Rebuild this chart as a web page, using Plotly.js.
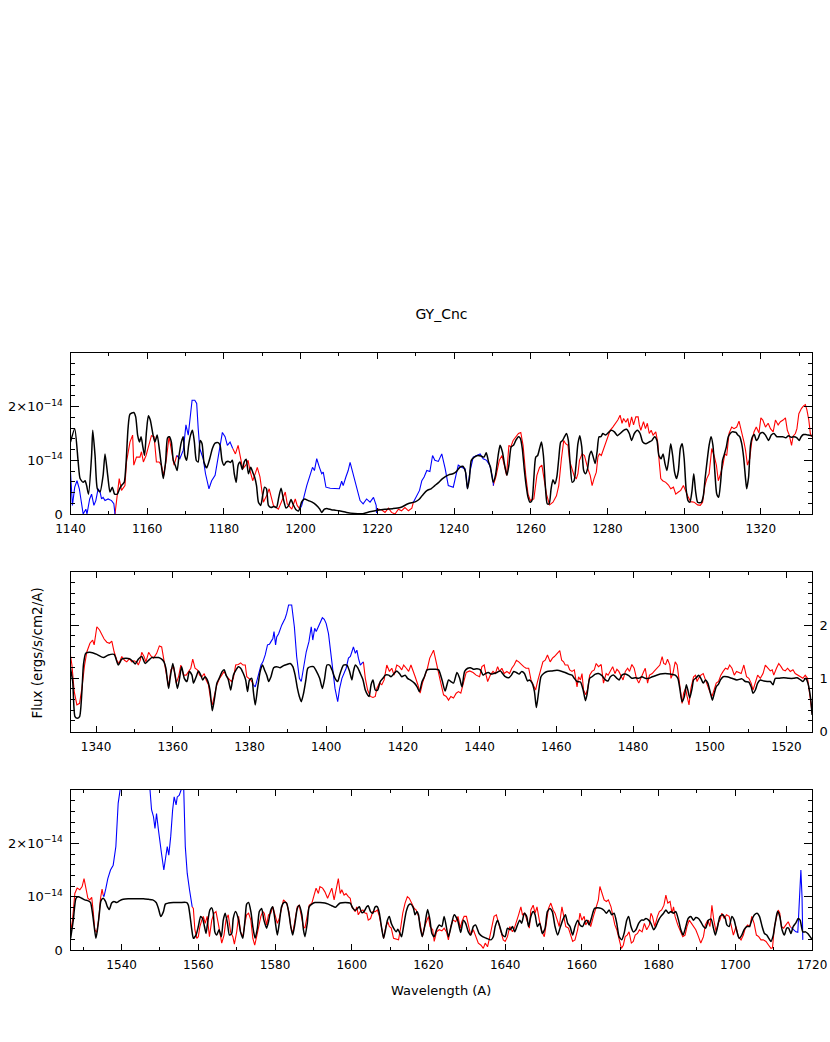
<!DOCTYPE html>
<html>
<head>
<meta charset="utf-8">
<script src="https://cdn.plot.ly/plotly-3.0.1.min.js"></script>
<style>html,body{margin:0;padding:0;background:#fff;}#chart{width:830px;height:1042px;}</style>
</head>
<body>
<div id="chart"></div>
<script>
// Flux values are in units of 1e-14 ergs/s/cm2/A; wavelengths in Angstrom.
// ---------- Panel 1 (1140 - 1333 A) ----------
const blackWave1 = [
1140.0,1141.1,1142.0,1142.5,1143.3,1143.8,1144.2,1144.7,1145.5,1145.8,
1146.4,1147.0,1147.7,1148.5,1149.0,1149.7,1150.3,1150.9,1151.5,1152.2,
1152.8,1153.4,1154.0,1154.5,1155.0,1155.5,1156.5,1157.0,1157.5,1158.0,
1158.4,1158.8,1159.3,1159.8,1160.3,1160.8,1161.5,1162.0,1162.6,1163.2,
1163.8,1164.2,1164.8,1165.3,1165.8,1166.3,1166.8,1167.3,1167.8,1168.3,
1168.9,1169.4,1169.8,1170.3,1170.8,1171.3,1171.8,1172.3,1172.8,1173.3,
1173.8,1174.3,1174.8,1175.5,1176.3,1177.0,1177.7,1178.5,1179.0,1179.5,
1180.0,1180.6,1181.2,1181.7,1182.2,1182.7,1183.2,1183.7,1184.2,1184.8,
1185.3,1185.8,1186.4,1187.0,1187.5,1188.0,1188.5,1189.0,1189.6,1190.1,
1190.6,1191.1,1191.6,1192.3,1193.0,1193.7,1194.3,1194.9,1195.5,1196.2,
1196.9,1197.5,1198.1,1198.8,1199.5,1200.3,1201.0,1202.0,1203.0,1204.0,
1205.0,1205.5,1206.2,1207.0,1208.0,1209.0,1210.0,1212.0,1214.0,1216.0,
1218.0,1220.0,1222.0,1224.0,1226.0,1228.0,1230.0,1231.0,1232.0,1233.0,
1234.0,1235.0,1236.0,1237.0,1238.6,1239.7,1240.6,1241.5,1242.3,1243.0,
1243.5,1244.0,1244.5,1245.3,1246.2,1247.0,1247.8,1248.4,1249.0,1249.5,
1250.2,1250.8,1251.5,1252.0,1252.6,1253.2,1253.8,1254.3,1254.9,1255.5,
1256.1,1256.8,1257.3,1257.8,1258.3,1258.8,1259.3,1259.8,1260.3,1260.8,
1261.3,1261.8,1262.3,1262.8,1263.3,1263.8,1264.3,1264.8,1265.3,1265.8,
1266.3,1266.8,1267.3,1267.8,1268.3,1268.8,1269.3,1269.8,1270.3,1270.8,
1271.3,1271.8,1272.3,1272.8,1273.3,1273.8,1274.3,1274.8,1275.3,1275.8,
1276.3,1276.8,1277.3,1277.8,1278.3,1278.8,1279.5,1280.3,1281.0,1281.8,
1282.6,1283.3,1284.2,1285.0,1285.7,1286.3,1287.0,1287.8,1288.5,1289.2,
1290.0,1290.8,1291.6,1292.3,1292.9,1293.4,1294.0,1294.5,1295.0,1295.5,
1296.0,1296.5,1297.0,1297.5,1298.0,1298.5,1299.0,1299.5,1300.0,1300.5,
1301.0,1301.5,1302.0,1302.5,1303.0,1303.5,1304.0,1304.5,1305.0,1305.5,
1306.0,1306.5,1307.0,1307.5,1308.0,1308.5,1309.0,1309.5,1310.0,1310.5,
1311.0,1311.5,1312.0,1312.5,1313.0,1313.5,1314.0,1314.5,1315.0,1315.5,
1316.0,1316.3,1316.8,1317.3,1317.8,1318.3,1318.8,1319.3,1319.8,1320.5,
1321.2,1322.0,1322.7,1323.4,1324.2,1325.0,1325.7,1326.5,1327.2,1327.9,
1328.6,1329.4,1330.0,1330.5,1331.1,1331.7,1332.3,1333.3];
const blackFlux1 = [
1.34,1.59,0.97,0.66,0.59,0.62,0.53,0.37,1.09,1.56,
1.09,0.47,0.41,0.72,1.12,0.72,0.41,0.50,0.37,0.37,
0.47,0.54,0.59,0.97,1.59,1.86,1.89,1.81,1.47,1.34,
1.44,1.28,1.09,1.53,1.83,1.75,1.48,1.34,1.47,1.19,
0.84,0.66,0.97,1.42,1.44,1.34,1.00,0.91,0.81,1.09,
1.34,1.44,1.09,1.00,1.28,1.47,1.56,1.34,1.00,0.97,
1.37,1.31,0.97,0.86,1.03,1.22,1.32,1.33,1.28,1.00,
0.91,0.97,0.98,0.96,1.00,0.75,0.59,0.91,0.97,0.83,
0.97,1.02,0.75,0.87,0.78,0.69,0.53,0.22,0.16,0.34,
0.50,0.47,0.16,0.12,0.14,0.12,0.31,0.48,0.28,0.11,
0.16,0.27,0.17,0.08,0.06,0.23,0.28,0.25,0.22,0.17,
0.09,0.03,0.09,0.10,0.08,0.07,0.06,0.03,0.01,0.005,
0.04,0.07,0.09,0.10,0.12,0.19,0.23,0.28,0.37,0.44,
0.47,0.53,0.59,0.66,0.73,0.75,0.79,0.87,0.89,0.78,
0.47,0.66,1.00,1.06,1.09,1.08,1.06,1.14,0.97,0.87,
0.59,0.72,1.09,1.28,1.16,0.91,0.72,0.91,1.25,1.28,
1.37,1.44,1.41,1.22,0.84,0.53,0.31,0.22,0.25,0.66,
1.06,1.09,1.22,1.34,1.09,0.53,0.19,0.19,0.47,0.64,
0.56,0.69,1.03,1.34,1.37,1.44,1.50,1.37,0.91,0.59,
0.62,0.91,1.31,1.46,1.25,0.81,0.75,0.84,1.09,1.17,
1.06,0.94,1.16,1.44,1.44,1.50,1.47,1.52,1.56,1.53,
1.46,1.50,1.56,1.58,1.50,1.37,1.50,1.56,1.50,1.34,
1.31,1.34,1.37,1.44,1.37,1.09,1.03,1.12,0.94,0.81,
1.03,1.31,1.09,0.78,0.66,0.81,1.22,1.31,1.03,0.47,
0.25,0.22,0.41,0.75,0.41,0.22,0.21,0.22,0.34,0.69,
1.00,1.28,1.44,1.28,0.78,0.37,0.31,0.59,1.00,1.12,
1.25,1.44,1.50,1.53,1.53,1.52,1.47,1.44,1.31,1.06,
0.66,0.47,0.69,1.28,1.44,1.48,1.37,1.41,1.50,1.52,
1.47,1.37,1.47,1.50,1.44,1.44,1.44,1.42,1.46,1.43,
1.44,1.42,1.37,1.44,1.48,1.48,1.47,1.46];

const redWave1 = [
1151.6,1152.7,1153.3,1154.2,1154.6,1155.5,1156.2,1156.5,1157.2,1158.1,
1158.5,1159.0,1159.7,1160.5,1161.1,1161.8,1162.4,1163.1,1163.7,1164.3,
1165.0,1165.7,1166.3,1167.0,1167.7,null,
1182.3,1183.0,1183.7,1184.2,1184.9,1185.7,1186.3,1186.8,1187.5,1188.3,
1188.7,1189.4,1190.3,1191.3,1191.8,1192.9,1194.2,1195.3,1196.0,1196.5,
1197.7,1198.6,1199.1,1199.8,null,
1219.8,1220.3,1221.1,1222.0,1222.9,1223.7,1224.6,1225.5,1226.3,1227.2,
1228.1,1229.0,1229.4,null,
1250.2,1250.9,1251.8,1252.5,1253.1,1253.7,1254.3,1254.8,1255.4,1256.1,
1256.8,1257.4,1258.0,1258.7,1259.3,1259.9,1260.8,1261.6,1262.3,1262.9,
1263.4,1264.1,1264.9,1265.8,1266.7,1267.3,1268.0,1268.6,1269.1,1269.7,
1270.1,1270.8,1271.4,1271.9,1272.3,1272.7,1273.4,1274.0,1274.5,1274.9,
1275.5,1276.0,1276.5,1277.1,1277.5,1277.9,1278.4,1279.0,1279.7,1280.2,
1280.7,1281.4,1282.1,1282.7,1283.3,1283.8,1284.2,1284.8,1285.3,1285.7,
1286.3,1286.8,1287.4,1288.0,1288.3,1288.7,1289.4,1289.9,1290.4,1290.9,
1291.4,1291.9,1292.6,1293.1,1293.5,1293.9,1294.4,1295.2,1295.9,1296.5,
1297.2,1297.8,1298.5,1299.1,1299.8,1300.4,1301.1,1301.7,1302.6,1303.5,
1304.2,1304.8,1305.4,1305.9,1306.5,1307.2,1307.8,1308.4,1308.9,1309.5,
1310.1,1310.6,1311.1,1311.7,1312.4,1313.0,1313.7,1314.3,1314.9,1315.6,
1316.0,1316.5,1317.1,1317.6,1318.2,1318.8,1319.5,1320.0,1320.5,1321.2,
1321.9,1322.5,1323.2,1323.8,1324.5,1325.1,1325.8,1326.4,1326.9,1327.4,
1328.0,1328.4,1329.0,1329.4,1329.9,1330.6,1331.2,1331.6,1332.0,1332.5,
1332.9,1333.3];
const redFlux1 = [
0.00,0.66,0.44,0.53,0.97,1.34,1.47,0.91,1.06,1.06,
1.16,0.97,1.09,1.31,1.46,1.44,0.97,0.97,0.91,0.72,
1.03,1.44,1.22,0.91,1.09,null,
1.22,1.12,1.28,1.09,0.84,0.91,1.00,0.81,0.62,0.78,
0.87,0.69,0.22,0.37,0.47,0.16,0.09,0.28,0.41,0.19,
0.09,0.28,0.16,0.09,null,
0.02,0.09,0.08,0.03,0.11,0.03,0.00,0.09,0.06,0.12,
0.06,0.11,0.22,null,
0.53,0.69,1.00,1.09,0.91,0.72,1.28,1.25,1.37,1.44,
1.50,1.52,1.28,0.72,0.37,0.25,0.28,0.72,0.87,0.91,
0.66,0.37,0.17,0.22,0.34,0.53,1.03,1.37,1.31,1.28,
1.00,0.84,0.69,0.66,0.75,1.00,1.12,1.09,0.94,0.84,
0.72,0.53,0.66,0.78,1.06,1.12,1.09,1.22,1.37,1.44,
1.56,1.62,1.69,1.75,1.84,1.69,1.78,1.71,1.78,1.62,
1.81,1.66,1.81,1.81,1.66,1.56,1.72,1.59,1.69,1.50,
1.56,1.47,1.53,1.34,0.97,0.66,0.62,0.59,0.54,0.47,
0.50,0.37,0.41,0.44,0.53,0.41,0.31,0.23,0.22,0.17,
0.16,0.22,0.53,0.66,0.75,1.22,1.09,0.91,0.62,0.75,
0.91,1.12,1.09,1.50,1.62,1.59,1.62,1.73,1.56,1.34,
1.19,0.91,1.03,1.34,1.53,1.62,1.51,1.79,1.75,1.62,
1.69,1.59,1.53,1.75,1.66,1.72,1.75,1.79,1.56,1.47,
1.28,1.45,1.50,1.59,1.87,1.97,2.02,2.04,1.94,1.75,
1.50,1.44];

const blueWave1 = [
1140.0,1140.5,1141.1,1141.7,1142.3,1142.9,1143.3,1144.0,1144.3,1145.0,
1145.5,1146.1,1146.6,1147.2,1147.7,1148.1,1148.5,1149.0,1149.8,1150.7,
1151.3,1151.6,null,
1167.7,1168.5,1169.4,1170.1,1170.7,1171.3,1171.7,1172.4,1172.9,1173.3,
1173.7,1174.6,1175.2,1176.1,1176.8,1177.7,1178.5,1179.0,1179.6,1180.3,
1180.9,1181.6,1182.3,null,
1199.8,1200.3,1201.6,1202.4,1203.1,1203.6,1204.2,1204.9,1205.5,1205.9,
1206.6,1207.7,1209.0,1210.1,1210.7,1211.1,1211.8,1212.4,1212.9,1213.7,
1214.6,1215.5,1216.3,1217.2,1218.1,1219.0,1219.7,1219.8,null,
1229.4,1230.3,1231.0,1231.6,1232.2,1232.9,1233.7,1234.4,1235.0,1235.9,
1236.8,1237.7,1238.5,1239.8,1240.5,1241.1,1242.0,1242.9,1243.5,1244.2,
1245.0,1245.9,1246.8,1247.6,1248.5,1249.3,1250.0,1250.3];
const blueFlux1 = [
0.78,0.16,0.50,0.62,0.47,0.16,0.00,0.09,0.00,0.28,
0.37,0.16,0.25,0.47,0.41,0.28,0.31,0.25,0.28,0.25,
0.19,0.00,null,
1.09,1.03,1.19,1.66,1.47,1.80,2.12,2.12,2.06,1.59,
1.22,1.03,0.75,0.47,0.62,0.72,1.09,1.25,1.52,1.44,
1.28,1.34,1.22,null,
0.09,0.16,0.53,0.69,0.87,0.81,1.03,0.87,0.75,0.78,
0.50,0.48,0.47,0.47,0.61,0.53,0.69,0.81,0.96,0.75,
0.53,0.25,0.19,0.28,0.22,0.31,0.16,0.02,null,
0.22,0.34,0.44,0.62,0.69,0.81,0.79,1.09,1.00,0.98,
1.12,0.84,0.53,0.50,0.75,0.91,0.87,0.84,0.47,0.81,
1.06,1.09,1.12,1.03,1.00,0.91,0.69,0.53];

// ---------- Panel 2 (1333 - 1527 A) ----------
const blackWave2 = [
1333.3,1333.9,1334.5,1335.1,1335.7,1336.3,1336.7,1337.3,1338.4,1340.2,
1341.9,1343.2,1344.7,1345.8,1346.7,1347.8,1348.9,1349.7,1350.2,1351.0,
1351.9,1352.8,1353.7,1354.5,1355.4,1356.3,1357.1,1357.7,1358.2,1358.9,
1359.3,1360.0,1360.6,1361.2,1361.7,1362.3,1363.0,1363.7,1364.3,1365.0,
1365.4,1366.1,1366.7,1367.3,1367.8,1368.4,1369.0,1369.7,1370.3,1370.9,
1371.5,1372.1,1372.9,1373.4,1373.9,1374.5,1375.1,1375.8,1376.5,1377.1,
1377.7,1378.4,1379.0,1379.5,1380.0,1380.6,1381.0,1381.5,1382.1,1382.8,
1383.4,1383.9,1384.5,1385.0,1385.6,1386.3,1387.1,1388.0,1388.9,1389.7,
1390.6,1391.3,1391.9,1392.5,1393.0,1393.5,1394.1,1394.7,1395.2,1396.0,
1396.7,1397.4,1398.3,1399.0,1399.6,1400.2,1400.9,1401.5,1402.3,1403.0,
1403.5,1404.1,1404.5,1405.4,1406.1,1406.7,1407.1,1407.6,1408.2,1408.9,
1409.6,1410.2,1410.8,1411.2,1411.7,1412.2,1412.8,1413.4,1414.1,1414.8,
1415.4,1416.3,1416.9,1417.7,1418.4,1419.1,1419.7,1420.6,1421.2,1421.9,
1423.0,1423.7,1424.3,1425.0,1425.6,1426.3,1427.3,1428.4,1429.3,1430.2,
1431.0,1431.9,1432.5,1433.2,1434.1,1434.8,1435.4,1436.1,1436.9,1437.6,
1438.4,1439.3,1440.2,1440.9,1441.5,1442.3,1443.0,1443.7,1444.5,1445.4,
1446.1,1446.7,1447.6,1448.3,1448.9,1449.6,1450.3,1451.0,1451.7,1452.5,
1453.0,1453.7,1454.3,1454.8,1455.4,1456.0,1456.7,1457.6,1458.9,1460.2,
1461.5,1462.3,1463.2,1464.1,1464.7,1465.4,1466.3,1467.0,1467.6,1468.0,
1468.7,1469.3,1470.2,1471.0,1471.9,1472.8,1473.5,1474.1,1475.0,1475.8,
1476.4,1477.1,1478.0,1478.9,1479.7,1480.6,1481.5,1482.3,1483.2,1484.1,
1485.0,1485.8,1487.1,1488.4,1489.7,1491.0,1491.7,1492.2,1492.8,1493.4,
1493.9,1494.3,1494.8,1495.4,1495.8,1496.5,1497.1,1497.7,1498.3,1498.9,
1499.5,1500.2,1500.7,1501.2,1501.7,1502.3,1502.8,1503.5,1504.5,1505.8,
1507.1,1508.4,1509.3,1510.2,1510.8,1511.3,1511.9,1512.5,1513.2,1514.1,
1515.0,1515.8,1516.5,1517.1,1518.0,1519.3,1520.6,1521.9,1522.8,1523.7,
1524.3,1525.0,1525.6,1526.3,1526.7];
const blackFlux2 = [
1.20,0.94,0.28,0.25,0.28,0.75,1.25,1.47,1.49,1.45,
1.39,1.44,1.45,1.25,1.36,1.38,1.36,1.31,1.27,1.36,
1.41,1.28,1.34,1.39,1.39,1.39,1.36,1.31,1.19,0.81,
1.00,1.28,1.06,0.81,0.97,1.22,1.00,0.94,1.13,1.06,
0.91,1.03,1.14,1.06,0.97,1.03,0.97,0.78,0.39,0.63,
0.91,1.00,1.13,1.16,1.06,0.97,0.78,1.06,1.16,1.22,
1.19,1.09,0.97,0.75,0.97,1.00,0.76,0.50,0.81,1.13,
1.25,1.16,1.06,0.94,1.03,1.20,1.22,1.20,1.24,1.26,
1.28,1.22,1.06,0.81,0.66,0.56,0.72,0.97,1.19,1.22,
1.22,1.14,1.00,0.81,1.00,1.25,1.25,1.16,1.00,0.94,
1.06,1.19,1.25,1.25,1.13,0.97,1.13,1.25,1.20,1.09,
0.97,0.78,0.69,0.66,0.88,0.97,0.78,0.78,0.94,1.00,
1.06,1.06,1.03,1.09,1.14,1.09,1.03,1.06,1.00,0.97,
0.91,0.84,0.75,0.94,1.03,1.16,1.17,1.17,1.16,0.97,
0.76,0.97,0.94,0.91,1.11,1.00,0.84,1.13,1.19,1.20,
1.17,1.18,1.16,1.06,1.09,1.11,1.08,1.09,1.11,1.14,
1.08,1.03,1.01,1.06,1.13,1.11,1.08,1.13,1.09,0.95,
0.97,0.91,0.75,0.45,0.75,1.03,1.09,1.13,1.14,1.15,
1.13,1.11,1.08,1.06,1.00,0.94,0.93,0.78,0.58,0.69,
1.00,1.03,1.08,1.09,1.05,0.97,0.95,1.03,1.06,1.00,
0.97,1.06,1.08,1.05,1.00,1.01,1.00,1.03,1.00,1.00,
1.03,1.05,1.08,1.09,1.08,1.06,1.00,0.81,0.56,0.66,
0.88,0.78,0.63,0.81,0.97,1.01,1.06,1.00,0.91,0.97,
0.91,0.72,0.59,0.72,0.84,0.89,0.97,1.03,1.03,1.00,
0.97,0.99,0.94,0.93,0.84,0.72,0.78,0.91,0.97,0.95,
0.94,0.94,0.88,1.00,1.00,1.01,1.00,1.00,1.01,0.97,
0.94,1.00,0.91,0.63,0.31];

const redWave2 = [
1333.3,1333.7,1334.3,1335.0,1335.7,1336.3,1337.0,1337.6,1338.4,1339.1,
1339.5,1340.2,1340.9,1341.5,1342.1,1342.8,1343.5,1344.1,1344.7,1345.4,
1346.0,1346.7,1347.4,1348.0,1348.7,1349.3,1349.9,1350.6,1351.0,1351.5,
1351.9,1352.5,1353.0,1353.7,1354.3,1355.0,1355.8,1356.5,1357.1,1357.6,
1358.2,1358.9,1359.5,1360.2,1360.9,1361.5,1362.1,1362.8,1363.5,1364.1,
1364.7,1365.2,1365.8,1366.4,1367.0,1367.6,1368.2,1368.7,1369.3,1369.9,
1370.3,1371.0,1371.5,1372.2,1372.8,1373.4,1374.1,1374.8,1375.3,1375.8,
1376.4,1377.1,1377.7,1378.3,1378.9,1379.3,1379.8,1380.3,1380.9,1381.0,
null,
1409.7,1410.2,1410.8,1411.5,1412.2,1412.8,1413.2,1413.9,1414.5,1415.1,
1415.8,1416.5,1417.1,1417.7,1418.4,1419.1,1419.7,1420.2,1420.9,1421.5,
1422.1,1422.6,1423.2,1423.9,1424.5,1425.1,1425.8,1426.4,1427.0,1428.0,
1429.7,1430.6,1431.3,1431.9,1432.5,1433.2,1433.9,1434.5,1435.1,1435.8,
1436.5,1437.4,1438.3,1439.1,1440.0,1440.6,1441.2,1441.7,1442.1,1442.8,
1443.5,1444.1,1444.7,1445.2,1445.8,1446.4,1447.1,1447.8,1448.4,1449.0,
1449.6,1450.2,1450.8,1451.5,1452.1,1452.8,1453.4,1454.1,1454.6,1455.1,
1455.8,1456.5,1457.1,1457.7,1458.4,1459.0,1459.5,1460.2,1460.9,1461.4,
1461.9,1462.3,1463.0,1463.5,1464.1,1464.7,1465.4,1465.8,1466.3,1466.7,
1467.1,1467.7,1468.2,1468.7,1469.3,1469.9,1470.4,1471.0,1471.7,1472.3,
1473.0,1473.5,1474.1,1474.7,1475.3,1475.8,1476.3,1476.9,1477.4,1478.0,
1478.6,1479.1,1479.7,1480.3,1480.9,1481.5,1482.1,1482.8,1483.2,1483.8,
1484.3,1485.0,1485.6,1486.3,1487.0,1487.6,1488.0,1488.5,1489.0,1489.6,
1489.9,1490.4,1491.0,1491.5,1491.9,1492.3,1492.8,1493.2,1493.7,1494.1,
1494.6,1495.1,1495.8,1496.3,1496.7,1497.1,1497.7,1498.3,1498.7,1499.3,
1500.0,1500.6,1501.2,1501.7,1502.3,1502.9,1503.5,1504.1,1504.7,1505.2,
1505.8,1506.4,1507.0,1507.6,1508.2,1508.9,1509.6,1510.2,1510.8,1511.3,
1511.9,1512.5,1513.2,1513.9,1514.5,1515.1,1515.8,1516.3,1516.7,1517.4,
1518.0,1518.6,1519.1,1519.7,1520.3,1521.0,1521.7,1522.3,1522.9,1523.6,
1524.3,1524.9,1525.5,1526.2,1526.7];
const redFlux2 = [
1.44,1.25,0.75,0.50,0.53,0.81,1.25,1.50,1.66,1.72,
1.63,1.97,1.91,1.81,1.74,1.68,1.66,1.70,1.50,1.34,
1.28,1.41,1.34,1.31,1.37,1.31,1.33,1.31,1.25,1.34,
1.49,1.41,1.31,1.49,1.42,1.38,1.47,1.61,1.59,1.38,
1.13,0.84,1.16,1.22,0.91,1.03,1.25,1.06,1.06,1.13,
1.19,1.36,1.19,1.16,1.06,1.03,1.09,0.97,0.88,0.59,
0.50,0.72,0.88,1.00,1.06,1.13,1.03,0.97,0.94,1.00,
1.25,1.26,1.29,1.25,1.25,1.03,1.00,0.97,0.91,0.88,
null,
1.31,1.00,0.78,0.66,0.64,0.66,0.81,0.91,0.88,0.97,
1.25,1.13,1.19,1.06,1.25,1.22,1.16,1.25,1.19,1.13,
1.25,1.16,1.03,0.88,0.72,0.91,1.06,1.19,1.38,1.53,
0.97,0.69,0.66,0.59,0.66,0.63,0.72,0.75,0.72,0.91,
1.11,1.14,1.11,1.06,1.03,1.22,1.25,1.06,0.94,1.06,
1.13,1.09,1.22,1.13,1.19,1.09,1.13,1.09,1.19,1.25,
1.34,1.31,1.26,1.22,1.19,1.19,0.97,0.84,0.78,0.94,
1.13,1.31,1.34,1.44,1.31,1.38,1.41,1.47,1.52,1.34,
1.31,1.25,1.25,1.16,1.13,1.16,0.84,1.03,0.97,1.09,
0.78,0.69,0.81,1.06,1.13,1.16,1.28,1.22,1.26,0.91,
1.09,1.06,1.13,1.22,1.09,1.17,1.13,1.03,0.97,1.13,
1.19,1.13,1.26,1.19,1.00,0.91,1.03,1.13,1.19,0.91,
1.06,1.09,1.14,1.19,1.25,1.41,1.28,1.26,1.36,1.25,
1.00,1.09,1.31,1.25,1.00,0.75,0.53,0.72,0.81,0.66,
0.50,0.81,1.03,1.06,0.94,1.00,1.06,1.09,1.00,0.88,
0.75,0.66,0.81,0.91,0.94,1.06,1.13,1.19,1.17,1.25,
1.19,1.06,1.13,1.11,1.09,1.25,1.03,1.00,0.91,0.78,
0.91,1.06,1.00,1.09,1.25,1.19,1.14,1.16,1.06,1.19,
1.28,1.22,1.16,1.14,1.19,1.13,1.16,1.09,1.06,1.03,
1.00,1.06,1.00,0.63,0.34];

const blueWave2 = [
1381.0,1381.5,1382.1,1382.6,1383.0,1383.5,1384.1,1384.7,1385.2,1385.6,
1386.1,1386.4,1386.8,1387.1,1387.6,1388.4,1389.3,1389.7,1390.2,1391.0,
1391.7,1392.3,1393.0,1393.5,1394.1,1394.8,1395.5,1396.1,1396.5,1397.0,
1397.4,1397.8,1398.4,1399.0,1399.5,1400.0,1400.6,1401.2,1401.7,1402.3,
1403.0,1403.5,1404.1,1404.5,1405.2,1405.8,1406.3,1406.7,1407.1,1407.6,
1408.0,1408.4,1408.9,1409.3,1409.7];
const blueFlux2 = [
0.88,0.84,1.00,1.13,1.25,1.31,1.44,1.63,1.64,1.69,
1.75,1.88,1.63,1.78,1.84,2.00,2.13,2.22,2.38,2.38,
1.97,1.41,1.00,0.94,1.19,1.50,1.69,1.97,1.72,1.94,
1.88,1.94,2.03,2.14,2.11,2.03,1.84,1.47,1.13,0.81,
0.56,0.81,1.00,1.06,1.19,1.38,1.41,1.50,1.59,1.47,
1.53,1.38,1.25,1.28,1.31];

// ---------- Panel 3 (1527 - 1720 A) ----------
const blackWave3 = [
1526.7,1527.4,1528.1,1528.7,1529.6,1530.4,1531.3,1531.9,1532.4,1532.9,
1533.3,1533.7,1534.2,1534.6,1535.2,1535.8,1536.3,1536.8,1537.4,1538.0,
1538.7,1539.4,1540.4,1541.7,1543.0,1544.3,1545.7,1547.0,1548.1,1549.0,
1549.6,1550.2,1550.9,1551.4,1552.2,1553.5,1555.2,1557.0,1557.4,1557.8,
1558.3,1558.7,1559.4,1560.0,1560.6,1561.1,1561.6,1562.0,1562.4,1563.0,
1563.5,1563.9,1564.3,1564.8,1565.4,1566.0,1566.5,1567.0,1567.6,1568.1,
1568.7,1569.1,1569.7,1570.4,1571.0,1571.6,1572.2,1572.6,1573.1,1573.7,
1574.2,1574.8,1575.4,1575.9,1576.5,1577.1,1577.8,1578.3,1578.9,1579.4,
1580.0,1580.6,1581.1,1581.7,1582.3,1583.0,1583.6,1584.1,1584.6,1585.2,
1585.8,1586.3,1587.0,1587.4,1587.8,1588.4,1588.9,1589.6,1590.4,1591.7,
1593.0,1593.9,1594.8,1595.7,1596.3,1597.0,1598.3,1599.6,1600.3,1600.9,
1601.5,1602.0,1602.6,1603.2,1603.9,1604.3,1604.9,1605.5,1606.1,1606.7,
1607.2,1607.8,1608.3,1608.8,1609.3,1609.8,1610.3,1610.9,1611.6,1612.0,
1612.6,1613.0,1613.5,1614.2,1614.8,1615.4,1616.1,1616.5,1617.0,1617.4,
1617.8,1618.4,1619.0,1619.4,1619.8,1620.4,1620.9,1621.5,1622.1,1622.8,
1623.5,1624.1,1625.2,1625.9,1626.7,1627.6,1628.4,1629.1,1629.7,1630.4,
1631.0,1631.7,1632.3,1633.2,1634.1,1635.1,1636.3,1636.9,1637.4,1638.0,
1638.6,1639.3,1640.0,1640.6,1641.3,1641.9,1642.5,1643.2,1643.8,1644.3,
1645.0,1645.6,1646.1,1646.7,1647.3,1647.8,1648.4,1649.0,1649.7,1650.4,
1651.0,1651.7,1652.3,1653.0,1653.7,1654.3,1655.0,1655.7,1656.3,1656.9,
1657.6,1658.2,1658.9,1659.5,1660.2,1660.8,1661.3,1661.9,1662.6,1663.3,
1664.1,1665.0,1665.8,1666.4,1667.1,1667.8,1668.4,1669.1,1669.7,1670.4,
1671.0,1671.7,1672.2,1672.8,1673.4,1674.1,1674.8,1675.5,1676.1,1676.7,
1677.4,1678.0,1678.7,1679.3,1680.0,1680.6,1681.3,1681.9,1682.6,1683.2,
1683.9,1684.5,1685.2,1685.8,1686.4,1687.1,1687.7,1688.4,1689.1,1689.7,
1690.4,1691.0,1691.7,1692.3,1693.0,1693.7,1694.3,1694.8,1695.4,1696.0,
1696.7,1697.4,1697.8,1698.4,1699.1,1699.7,1700.3,1701.0,1701.7,1702.3,
1703.0,1703.7,1704.3,1705.0,1705.7,1706.3,1707.0,1707.6,1708.2,1708.9,
1709.3,1709.9,1710.4,1711.0,1711.6,1712.2,1712.8,1713.4,1713.9,1714.5,
1715.1,1715.8,1716.4,1716.9,1717.6,1718.3,1718.9,1719.5,1720.0];
const blackFlux3 = [
0.22,0.56,0.97,1.00,0.97,0.94,0.92,0.89,0.69,0.41,
0.22,0.38,0.69,0.92,0.97,0.91,0.81,0.76,0.88,0.91,
0.89,0.92,0.95,0.96,0.96,0.96,0.96,0.95,0.94,0.89,
0.78,0.63,0.72,0.86,0.88,0.89,0.89,0.89,0.84,0.66,
0.38,0.22,0.28,0.44,0.63,0.59,0.44,0.31,0.50,0.75,
0.79,0.69,0.34,0.28,0.38,0.25,0.56,0.69,0.50,0.28,
0.31,0.59,0.72,0.59,0.34,0.22,0.59,0.86,0.89,0.72,
0.44,0.22,0.41,0.72,0.78,0.56,0.41,0.53,0.75,0.81,
0.56,0.28,0.50,0.81,0.89,0.88,0.69,0.44,0.28,0.50,
0.78,0.84,0.66,0.38,0.25,0.50,0.81,0.86,0.89,0.89,
0.88,0.86,0.83,0.80,0.84,0.88,0.89,0.88,0.78,0.74,
0.78,0.81,0.70,0.72,0.81,0.83,0.72,0.69,0.81,0.81,
0.69,0.41,0.22,0.38,0.56,0.63,0.50,0.41,0.34,0.39,
0.31,0.25,0.44,0.72,0.84,0.86,0.78,0.66,0.72,0.66,
0.44,0.25,0.44,0.63,0.76,0.56,0.31,0.25,0.38,0.47,
0.44,0.63,0.25,0.44,0.66,0.56,0.33,0.56,0.50,0.34,
0.28,0.44,0.47,0.31,0.25,0.22,0.19,0.25,0.44,0.56,
0.44,0.28,0.25,0.41,0.38,0.44,0.34,0.47,0.56,0.50,
0.69,0.63,0.44,0.63,0.72,0.66,0.44,0.50,0.31,0.41,
0.72,0.78,0.72,0.44,0.28,0.41,0.56,0.66,0.50,0.44,
0.28,0.44,0.56,0.47,0.44,0.53,0.56,0.47,0.63,0.78,
0.79,0.78,0.74,0.69,0.75,0.66,0.69,0.50,0.25,0.19,
0.31,0.56,0.63,0.44,0.34,0.38,0.50,0.56,0.56,0.59,
0.56,0.50,0.38,0.44,0.56,0.63,0.69,0.75,0.69,0.72,
0.69,0.72,0.56,0.38,0.28,0.44,0.59,0.63,0.56,0.61,
0.59,0.53,0.44,0.41,0.56,0.58,0.41,0.28,0.44,0.63,
0.66,0.59,0.47,0.44,0.63,0.56,0.38,0.22,0.28,0.38,
0.44,0.44,0.56,0.66,0.69,0.63,0.44,0.31,0.28,0.20,
0.16,0.28,0.50,0.72,0.63,0.38,0.28,0.41,0.41,0.31,
0.44,0.51,0.59,0.56,0.34,0.34,0.31,0.25,0.20];

const redWave3 = [
1526.7,1527.2,1527.8,1528.4,1529.1,1529.7,1530.2,1530.7,1531.2,1531.7,
1532.2,1532.6,1533.0,1533.5,1534.0,1534.5,1534.9,1535.2,null,
1558.4,1558.7,1559.1,1559.6,1560.0,1560.4,1560.9,1561.3,1561.8,1562.3,
1562.9,1563.5,1564.1,1564.6,1565.2,1565.7,1566.1,1566.7,1567.2,1567.8,
1568.4,1569.0,1569.4,1570.0,1570.5,1571.0,1571.6,1572.2,1572.6,1573.1,
1573.7,1574.2,1574.7,1575.2,1575.7,1576.3,1576.8,1577.2,1577.8,1578.3,
1578.9,1579.4,1580.0,1580.6,1581.1,1581.7,1582.2,1582.6,1583.0,1583.6,
1584.1,1584.6,1585.2,1585.8,1586.3,1587.0,1587.4,1587.8,1588.4,1588.9,
1589.6,1590.2,1590.7,1591.3,1591.7,1592.4,1593.0,1593.7,1594.2,1594.8,
1595.4,1595.9,1596.5,1597.0,1597.4,1598.0,1598.5,1599.1,1599.6,1600.0,
1600.4,1600.9,1601.3,1601.7,1602.2,1602.9,1603.5,1603.9,1604.3,1604.9,
1605.5,1606.1,1606.7,1607.2,1607.8,1608.3,1608.9,1609.4,1609.8,1610.3,
1610.9,1611.6,1612.2,1612.8,1613.3,1613.9,1614.5,1615.0,1615.7,1616.3,
1616.8,1617.4,1617.8,1618.4,1619.0,1619.4,1620.0,1620.4,1621.1,1621.5,
1622.1,1622.8,1623.5,1624.1,1624.7,1625.2,1625.8,1626.4,1627.1,1627.7,
1628.3,1628.7,1629.3,1629.9,1630.4,1631.0,1631.7,1632.3,1633.0,1633.7,
1634.3,1634.8,1635.4,1636.0,1636.5,1637.1,1637.7,1638.3,1638.9,1639.5,
1640.0,1640.6,1641.2,1641.9,1642.4,1643.0,1643.5,1644.1,1644.5,1645.1,
1645.7,1646.3,1646.7,1647.3,1647.8,1648.3,1648.9,1649.6,1650.2,1650.8,
1651.3,1651.9,1652.5,1653.0,1653.7,1654.1,1654.8,1655.2,1655.8,1656.5,
1657.0,1657.6,1658.2,1658.9,1659.5,1660.0,1660.6,1661.0,1661.7,1662.3,
1663.0,1663.7,1664.3,1664.7,1665.2,1665.8,1666.4,1666.9,1667.6,1668.0,
1668.6,1669.1,1669.7,1670.3,1670.8,1671.3,1671.8,1672.3,1672.9,1673.4,
1673.9,1674.5,1675.0,1675.7,1676.3,1676.9,1677.6,1678.0,1678.4,1679.0,
1679.7,1680.2,1680.8,1681.4,1681.9,1682.4,1683.0,1683.5,1683.9,1684.3,
1685.0,1685.6,1686.3,1686.9,1687.4,1688.0,1688.6,1689.1,1689.7,1690.4,
1691.0,1691.7,1692.2,1692.8,1693.4,1693.9,1694.4,1695.0,1695.5,1696.0,
1696.5,1697.1,1697.7,1698.4,1699.0,1699.5,1700.2,1700.8,1701.5,1702.1,
1702.6,1703.2,1703.8,1704.3,1704.9,1705.5,1706.1,1706.7,1707.3,1708.0,
1708.7,1709.3,1709.7,1710.2,1711.2,1711.6,1712.0,1712.6,1713.2,1713.8,
1714.3,1714.6];
const redFlux3 = [
0.34,0.56,1.06,1.16,1.13,1.19,1.34,1.13,0.97,0.94,
0.99,0.72,0.38,0.33,0.56,0.97,1.14,1.03,null,
0.81,0.78,0.38,0.22,0.25,0.44,0.56,0.63,0.50,0.63,
0.25,0.56,0.69,0.72,0.50,0.31,0.13,0.28,0.56,0.66,
0.34,0.25,0.11,0.34,0.63,0.34,0.25,0.53,0.66,0.69,
0.56,0.22,0.09,0.25,0.44,0.63,0.72,0.69,0.47,0.66,
0.69,0.81,0.66,0.50,0.59,0.78,0.94,0.91,0.88,0.72,
0.44,0.31,0.56,0.81,0.84,0.56,0.44,0.41,0.63,0.84,
0.88,1.03,1.16,1.06,1.19,1.16,1.09,0.97,1.06,1.16,
0.94,1.13,1.34,1.06,1.13,1.03,1.06,1.00,0.97,0.81,
0.78,0.72,0.81,0.66,0.72,0.75,0.69,0.69,0.56,0.59,
0.72,0.72,0.75,0.63,0.44,0.22,0.44,0.53,0.44,0.41,
0.22,0.20,0.19,0.44,0.69,0.88,1.00,0.97,0.88,0.78,
0.75,0.63,0.50,0.25,0.44,0.53,0.63,0.44,0.38,0.16,
0.34,0.38,0.36,0.41,0.34,0.19,0.44,0.56,0.53,0.63,
0.41,0.53,0.63,0.63,0.44,0.28,0.38,0.25,0.13,0.09,
0.03,0.13,0.06,0.25,0.41,0.63,0.66,0.50,0.34,0.19,
0.16,0.25,0.44,0.34,0.41,0.53,0.66,0.81,0.66,0.69,
0.53,0.41,0.75,0.84,0.69,0.81,0.56,0.34,0.25,0.56,
0.78,0.88,0.75,0.69,0.50,0.44,0.81,0.63,0.44,0.41,
0.31,0.16,0.19,0.38,0.69,0.56,0.63,0.47,0.56,0.44,
0.63,0.81,0.94,1.19,1.06,0.94,0.91,0.94,0.81,0.66,
0.47,0.38,0.19,0.03,0.09,0.25,0.28,0.34,0.13,0.16,
0.28,0.31,0.38,0.34,0.50,0.38,0.47,0.69,0.63,0.44,
0.63,0.72,0.75,0.84,1.03,0.88,0.91,0.69,0.81,0.63,
0.47,0.38,0.25,0.28,0.44,0.56,0.50,0.44,0.38,0.25,
0.13,0.25,0.47,0.56,0.44,0.84,0.56,0.34,0.50,0.56,
0.69,0.59,0.66,0.63,0.44,0.28,0.44,0.25,0.19,0.28,
0.41,0.47,0.44,0.63,0.50,0.28,0.25,0.19,0.19,0.16,
0.09,0.03,0.04,0.44,0.75,0.69,0.44,0.41,0.47,0.53,
0.44,0.42];

const blueWave3 = [
1535.2,1535.4,1535.9,1536.4,1537.1,1537.8,1538.5,1538.9,1539.1,1539.6,
1541.0,1543.0,1545.0,1547.0,1547.4,1547.8,1548.3,1548.7,1549.1,1549.6,
1550.0,1550.4,1551.0,1551.5,1551.9,1552.3,1552.8,1553.3,1553.7,1554.2,
1554.5,1555.0,1555.5,1555.9,1556.2,1556.6,1557.1,1557.7,1558.1,1558.4,
null,
1714.6,1715.2,1715.8,1716.3,1716.7,1717.1,1717.4,1717.6];
const blueFlux3 = [
1.03,1.00,1.16,1.34,1.50,1.59,1.94,2.40,2.75,3.00,
3.40,3.60,3.50,3.15,3.00,2.63,2.50,2.28,2.56,2.25,
2.00,1.81,1.50,1.75,1.94,1.78,2.13,2.63,2.87,2.72,
2.87,2.90,3.00,3.20,3.00,1.94,1.44,1.13,0.97,0.81,
null,
0.42,0.38,0.34,0.33,0.90,1.50,1.00,0.19];

// Axis settings
const xRanges = [[1140, 1333.33], [1333.33, 1526.67], [1526.67, 1720]];
const yRange = [0, 3];
const fluxTickVals = [0, 1, 2];
const fluxTickText = ['0', '10<sup>\u221214</sup>', '2\u00d710<sup>\u221214</sup>'];
const scaledTickText = ['0', '1', '2'];
const titleText = 'GY_Cnc';
const xTitleText = 'Wavelength (A)';
const yTitleText = 'Flux (ergs/s/cm2/A)';

// ---------- Build figure ----------
const W = 830, H = 1042;
const FONT = 'DejaVu Sans, Liberation Sans, sans-serif';
const panelsPx = [[353, 514], [572, 731.5], [790, 950]]; // top, bottom in px
const xDom = [70.5 / W, 812 / W];

const series = [
  {red: [redWave1, redFlux1], blue: [blueWave1, blueFlux1], black: [blackWave1, blackFlux1]},
  {red: [redWave2, redFlux2], blue: [blueWave2, blueFlux2], black: [blackWave2, blackFlux2]},
  {red: [redWave3, redFlux3], blue: [blueWave3, blueFlux3], black: [blackWave3, blackFlux3]}
];

const traces = [];
series.forEach((s, i) => {
  const xa = i === 0 ? 'x' : 'x' + (i + 1);
  const ya = i === 0 ? 'y' : 'y' + (i + 1);
  traces.push({x: s.red[0], y: s.red[1], xaxis: xa, yaxis: ya, type: 'scatter', mode: 'lines',
    line: {color: '#ff0000', width: 1.1}, hoverinfo: 'skip', showlegend: false});
  traces.push({x: s.blue[0], y: s.blue[1], xaxis: xa, yaxis: ya, type: 'scatter', mode: 'lines',
    line: {color: '#0000ff', width: 1.1}, hoverinfo: 'skip', showlegend: false});
  traces.push({x: s.black[0], y: s.black[1], xaxis: xa, yaxis: ya, type: 'scatter', mode: 'lines',
    line: {color: '#000000', width: 1.5, shape: 'spline', smoothing: 0.6}, hoverinfo: 'skip', showlegend: false});
});

const layout = {
  width: W, height: H,
  margin: {l: 0, r: 0, t: 0, b: 0},
  paper_bgcolor: '#ffffff', plot_bgcolor: '#ffffff',
  font: {family: FONT, size: 12, color: '#000'},
  showlegend: false,
  title: {text: titleText, x: 441.5 / W, y: 1 - 314 / H, xanchor: 'center', yanchor: 'middle',
          xref: 'paper', yref: 'paper', font: {family: FONT, size: 14, color: '#000'}},
  annotations: [
    {text: xTitleText, xref: 'paper', yref: 'paper', x: 440.7 / W, y: 1 - 990 / H,
     xanchor: 'center', yanchor: 'middle', showarrow: false, font: {family: FONT, size: 13, color: '#000'}},
    {text: yTitleText, xref: 'paper', yref: 'paper', x: 36.5 / W, y: 1 - 653 / H, textangle: -90,
     xanchor: 'center', yanchor: 'middle', showarrow: false, font: {family: FONT, size: 13.5, color: '#000'}}
  ]
};

panelsPx.forEach((p, i) => {
  const sfx = i === 0 ? '' : String(i + 1);
  const yDom = [1 - p[1] / H, 1 - p[0] / H];
  layout['xaxis' + sfx] = {
    domain: xDom, anchor: 'y' + sfx, range: xRanges[i],
    showline: true, linecolor: '#000', linewidth: 1, mirror: 'ticks',
    ticks: 'inside', ticklen: 6, tickwidth: 1, tickcolor: '#000',
    tickmode: 'linear', tick0: 1140, dtick: 20,
    minor: {tickmode: 'linear', tick0: 1140, dtick: 10, ticks: 'inside', ticklen: 3, tickwidth: 1, tickcolor: '#000', showgrid: false},
    showgrid: false, zeroline: false, automargin: false,
    tickfont: {family: FONT, size: 12, color: '#000'}, ticklabelstandoff: 4, fixedrange: true
  };
  layout['yaxis' + sfx] = {
    domain: yDom, anchor: 'x' + sfx, range: yRange,
    side: i === 1 ? 'right' : 'left',
    showline: true, linecolor: '#000', linewidth: 1, mirror: 'ticks',
    ticks: 'inside', ticklen: 8, tickwidth: 1, tickcolor: '#000',
    tickmode: 'array', tickvals: fluxTickVals, ticktext: i === 1 ? scaledTickText : fluxTickText,
    minor: {tickmode: 'linear', tick0: 0, dtick: 0.2, ticks: 'inside', ticklen: 4, tickwidth: 1, tickcolor: '#000', showgrid: false},
    showgrid: false, zeroline: false, automargin: false,
    tickfont: {family: FONT, size: 13, color: '#000'}, ticklabelstandoff: 4, fixedrange: true
  };
});

Plotly.newPlot('chart', traces, layout, {staticPlot: true, displayModeBar: false});
</script>
</body>
</html>
